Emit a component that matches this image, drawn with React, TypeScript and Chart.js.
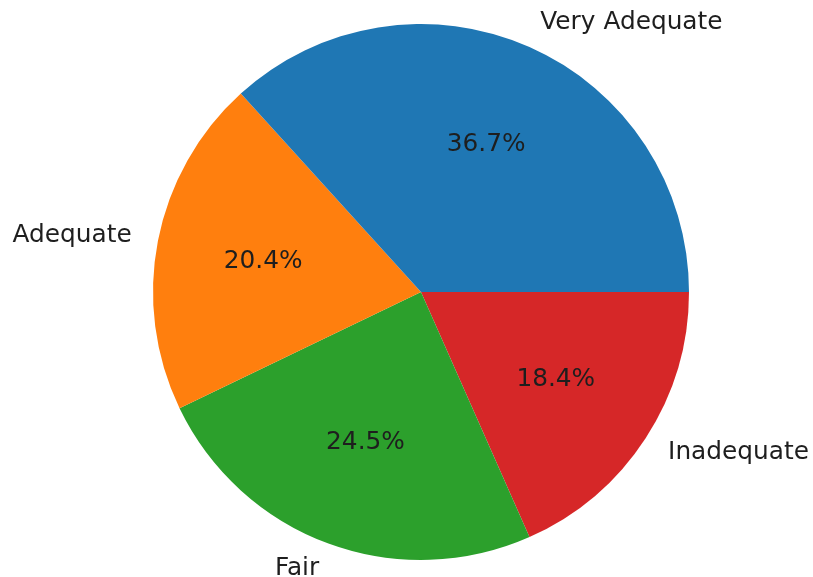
import React, { useEffect, useRef } from "react";
import { Chart, registerables } from "chart.js";

Chart.register(...registerables);

// Original (matplotlib) order, counter-clockwise from 3 o'clock
const categories = ["Very Adequate", "Adequate", "Fair", "Inadequate"];
const counts = [18, 10, 12, 9];
const colors = ["#1f77b4", "#ff7f0e", "#2ca02c", "#d62728"];

const FONT = "24.8px 'DejaVu Sans'";
const TEXT_COLOR = "#1e1e1e";

const labelPlugin = {
  id: "pieLabels",
  afterDatasetsDraw(chart: any) {
    const ctx = chart.ctx;
    const meta = chart.getDatasetMeta(0);
    const data = chart.data.datasets[0].data as number[];
    const labels = chart.data.labels as string[];
    const total = data.reduce((a, b) => a + b, 0);
    ctx.save();
    ctx.font = FONT;
    ctx.fillStyle = TEXT_COLOR;
    meta.data.forEach((arc: any, i: number) => {
      const { x, y, startAngle, endAngle, outerRadius } = arc.getProps(
        ["x", "y", "startAngle", "endAngle", "outerRadius"],
        true
      );
      const mid = (startAngle + endAngle) / 2;
      const c = Math.cos(mid);
      const s = Math.sin(mid);
      // percentage inside
      const pr = outerRadius * 0.6;
      ctx.textAlign = "center";
      ctx.textBaseline = "middle";
      ctx.fillText(((data[i] / total) * 100).toFixed(1) + "%", x + c * pr, y + s * pr);
      // category label outside
      const lr = outerRadius * 1.1;
      ctx.textAlign = c > 0 ? "left" : "right";
      ctx.fillText(labels[i], x + c * lr, y + s * lr);
    });
    ctx.restore();
  },
};

export default function App() {
  const ref = useRef<HTMLCanvasElement | null>(null);
  useEffect(() => {
    if (!ref.current) return;
    // Chart.js draws clockwise; reverse to reproduce counter-clockwise layout
    const labels = [...categories].reverse();
    const values = [...counts].reverse();
    const bg = [...colors].reverse();
    const chart = new Chart(ref.current, {
      type: "pie",
      data: {
        labels,
        datasets: [
          {
            data: values,
            backgroundColor: bg,
            borderWidth: 0,
          },
        ],
      },
      options: {
        animation: false,
        responsive: true,
        maintainAspectRatio: false,
        rotation: 90,
        layout: { padding: { left: 153, right: 124, top: 24, bottom: 17 } },
        plugins: {
          legend: { display: false },
          tooltip: { enabled: false },
        },
      },
      plugins: [labelPlugin],
    });
    return () => chart.destroy();
  }, []);
  return (
    <div
      style={{
        position: "absolute",
        left: 0,
        top: 0,
        width: 813,
        height: 577,
        background: "#ffffff",
      }}
    >
      <canvas ref={ref} />
    </div>
  );
}
